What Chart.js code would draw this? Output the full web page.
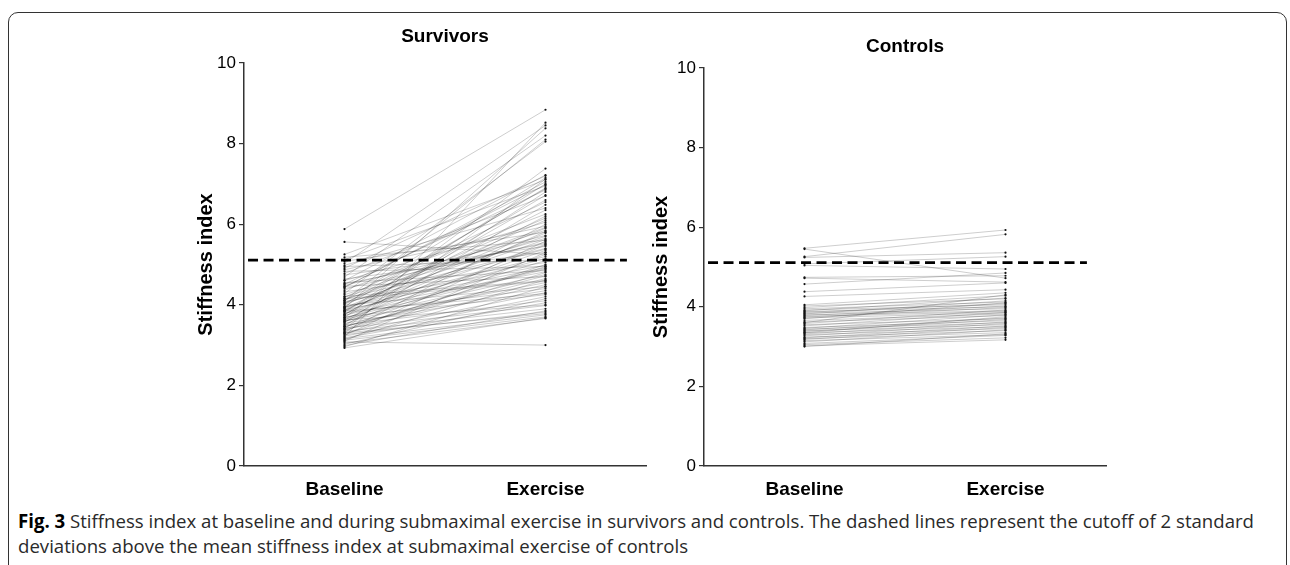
<!DOCTYPE html>
<html lang="en">
  <head>
    <meta charset="UTF-8" />
    <title>Stiffness index</title>
    <script src="https://cdn.jsdelivr.net/npm/chart.js"></script>
    <style>
      html,
      body {
        margin: 0;
        padding: 0;
        width: 1290px;
        height: 565px;
        overflow: hidden;
        background: #fff;
      }
      .frame {
        position: absolute;
        left: 8px;
        top: 12px;
        width: 1279px;
        height: 620px;
        border: 1.5px solid #333;
        border-radius: 10px;
        box-sizing: border-box;
      }
      .panel {
        position: absolute;
        top: 0;
      }
      #survivors { left: 140px; }
      #controls { left: 600px; }
      .caption {
        position: absolute;
        left: 18px;
        font-family: "Open Sans", "Liberation Sans", sans-serif;
        font-size: 19px;
        color: #2a2a2a;
        white-space: nowrap;
        transform-origin: 0 0;
      }
      #cap1 { top: 508px; }
      #cap2 { top: 533px; }
      .caption b { font-weight: 700; color: #000; }
    </style>
  </head>
  <body>
    <div class="frame"></div>
    <canvas id="survivors" class="panel" width="520" height="506"></canvas>
    <canvas id="controls" class="panel" width="520" height="506"></canvas>

    <div id="cap1" class="caption"><b>Fig. 3</b> Stiffness index at baseline and during submaximal exercise in survivors and controls. The dashed lines represent the cutoff of 2 standard</div>
    <div id="cap2" class="caption">deviations above the mean stiffness index at submaximal exercise of controls</div>

    <script>
      // values (one entry per subject, same order in both arrays)
      const groupLabels = ["Baseline", "Exercise"];
      const groupX = [1, 3];
      const cutoff = 5.11;
      const cutoffSpan = [0.04, 3.81];

      const survivorsBaseline = [
        5.88, 5.56, 5.25, 5.18, 5.12, 5.08, 5.03, 4.98, 4.95, 4.91,
        4.87, 4.83, 4.78, 4.74, 4.69, 4.64, 4.60, 4.55, 4.51, 4.48,
        4.46, 4.43, 4.40, 4.36, 4.32, 4.28, 4.25, 4.21, 4.18, 4.15,
        4.12, 4.10, 4.08, 4.05, 4.02, 3.99, 3.96, 3.94, 3.92, 3.90,
        3.88, 3.86, 3.84, 3.82, 3.80, 3.78, 3.76, 3.74, 3.72, 3.70,
        3.68, 3.66, 3.64, 3.62, 3.60, 3.58, 3.56, 3.54, 3.52, 3.50,
        3.48, 3.46, 3.44, 3.42, 3.40, 3.38, 3.36, 3.34, 3.32, 3.30,
        3.28, 3.26, 3.24, 3.22, 3.20, 3.18, 3.16, 3.14, 3.12, 3.10,
        3.08, 3.05, 3.02, 2.99, 2.96, 2.93,
        4.44, 4.02, 3.75, 3.86, 4.20, 3.58, 3.95, 4.60, 3.68, 3.46,
        4.15, 3.30, 3.92, 4.52, 3.62, 4.10, 3.40, 3.84, 4.05,
      ];
      const survivorsExercise = [
        8.84, 5.25, 7.10, 5.60, 6.95, 5.80, 8.45, 6.40, 5.12, 7.20,
        5.95, 4.95, 6.70, 5.45, 8.20, 5.30, 6.05, 4.85, 6.85, 5.72,
        4.70, 7.05, 5.55, 6.25, 5.05, 8.05, 5.85, 4.60, 6.55, 5.40,
        5.92, 7.15, 4.98, 6.15, 5.70, 4.45, 6.90, 5.20, 8.38, 5.62,
        4.82, 6.35, 5.15, 7.00, 4.40, 5.50, 6.60, 4.90, 5.78, 4.25,
        7.38, 5.35, 4.75, 6.20, 4.55, 5.10, 6.80, 4.35, 5.48, 4.10,
        6.48, 4.65, 5.25, 3.98, 7.12, 4.50, 5.00, 3.90, 6.00, 4.30,
        4.80, 3.82, 5.58, 4.20, 8.52, 4.05, 3.75, 4.62, 3.70, 5.30,
        3.00, 3.66, 4.15, 3.85, 4.45, 3.68,
        6.98, 6.88, 6.72, 5.90, 5.65, 5.82, 4.92, 7.22, 4.88, 4.72,
        4.58, 3.78, 6.10, 5.52, 4.00, 8.10, 4.95, 4.28, 5.38,
      ];

      const controlsBaseline = [
        5.47, 5.45, 5.26, 5.24, 5.08, 5.04, 4.74, 4.72, 4.57, 4.38,
        4.26, 4.05, 4.02, 3.98, 3.95, 3.92, 3.90, 3.88, 3.86, 3.84,
        3.82, 3.80, 3.78, 3.76, 3.74, 3.72, 3.70, 3.66, 3.62, 3.58,
        3.55, 3.52, 3.48, 3.46, 3.44, 3.42, 3.40, 3.38, 3.35, 3.32,
        3.30, 3.27, 3.24, 3.22, 3.20, 3.18, 3.15, 3.12, 3.08, 3.05,
        3.02, 3.00, 3.60, 3.35,
      ];
      const controlsExercise = [
        5.93, 4.72, 5.82, 5.36, 5.26, 4.95, 4.78, 4.62, 4.85, 4.60,
        4.43, 4.35, 4.20, 4.28, 4.12, 4.05, 4.22, 4.00, 4.08, 3.95,
        4.15, 3.90, 4.02, 3.88, 3.98, 3.85, 4.10, 3.82, 3.78, 3.92,
        3.70, 3.86, 3.65, 3.80, 3.60, 3.72, 3.55, 3.68, 3.50, 3.62,
        3.45, 3.58, 3.40, 3.52, 3.35, 3.48, 3.30, 3.42, 3.28, 3.22,
        3.17, 3.32, 4.30, 3.75,
      ];

      const FONT = '"Liberation Sans", Arial, sans-serif';

      function buildDatasets(baseline, exercise) {
        const sets = baseline.map((b, i) => ({
          data: [
            { x: groupX[0], y: b },
            { x: groupX[1], y: exercise[i] },
          ],
          borderColor: "rgba(0,0,0,0.22)",
          borderWidth: 0.9,
          pointRadius: 1.1,
          pointBackgroundColor: "#111",
          pointBorderWidth: 0,
          order: 1,
        }));
        // cutoff: mean + 2 SD of controls at exercise
        sets.push({
          data: cutoffSpan.map((x) => ({ x: x, y: cutoff })),
          borderColor: "#000",
          borderWidth: 2.8,
          borderDash: [10, 5.5],
          pointRadius: 0,
          order: 0,
        });
        return sets;
      }

      function makeChart(id, title, baseline, exercise, pad) {
        return new Chart(document.getElementById(id), {
          type: "line",
          data: { datasets: buildDatasets(baseline, exercise) },
          options: {
            responsive: false,
            animation: false,
            events: [],
            layout: { padding: { left: 40, right: 14, top: 0, bottom: 0 } },
            plugins: {
              legend: { display: false },
              tooltip: { enabled: false },
              title: {
                display: true,
                text: title,
                fullSize: false,
                color: "#000",
                font: { family: FONT, size: 19, weight: "bold" },
                padding: { top: pad.titleTop, bottom: pad.titleBottom },
              },
            },
            scales: {
              x: {
                type: "linear",
                min: 0,
                max: 4,
                afterBuildTicks: (s) => {
                  s.ticks = groupX.map((v) => ({ value: v }));
                },
                afterFit: (s) => {
                  s.height = 40;
                },
                grid: { display: false, drawTicks: false },
                border: { display: true, color: "#333", width: 1.5 },
                ticks: {
                  callback: (v) => groupLabels[groupX.indexOf(v)],
                  color: "#000",
                  font: { family: FONT, size: 19, weight: "bold" },
                  padding: 12,
                  maxRotation: 0,
                  autoSkip: false,
                },
              },
              y: {
                min: 0,
                max: 10,
                afterFit: (s) => {
                  s.width = 64;
                },
                grid: {
                  drawOnChartArea: false,
                  drawTicks: true,
                  tickLength: 5,
                  color: "#333",
                  lineWidth: 1.2,
                },
                border: { display: true, color: "#333", width: 1.5 },
                ticks: {
                  stepSize: 2,
                  color: "#000",
                  font: { family: FONT, size: 17 },
                  padding: 3,
                },
                title: {
                  display: true,
                  text: "Stiffness index",
                  color: "#000",
                  font: { family: FONT, size: 20, weight: "bold" },
                  padding: { top: pad.yTitle, bottom: 0 },
                },
              },
            },
          },
        });
      }

      makeChart("survivors", "Survivors", survivorsBaseline, survivorsExercise, {
        titleTop: 25.6,
        titleBottom: 14.6,
        yTitle: 14,
      });
      makeChart("controls", "Controls", controlsBaseline, controlsExercise, {
        titleTop: 35.6,
        titleBottom: 9.6,
        yTitle: 9,
      });

      // squeeze the caption to the width it has in the figure
      const cap1 = document.getElementById("cap1");
      const cap2 = document.getElementById("cap2");
      const k = 1236 / cap1.getBoundingClientRect().width;
      cap1.style.transform = "scaleX(" + k + ")";
      cap2.style.transform = "scaleX(" + k + ")";
    </script>
  </body>
</html>
